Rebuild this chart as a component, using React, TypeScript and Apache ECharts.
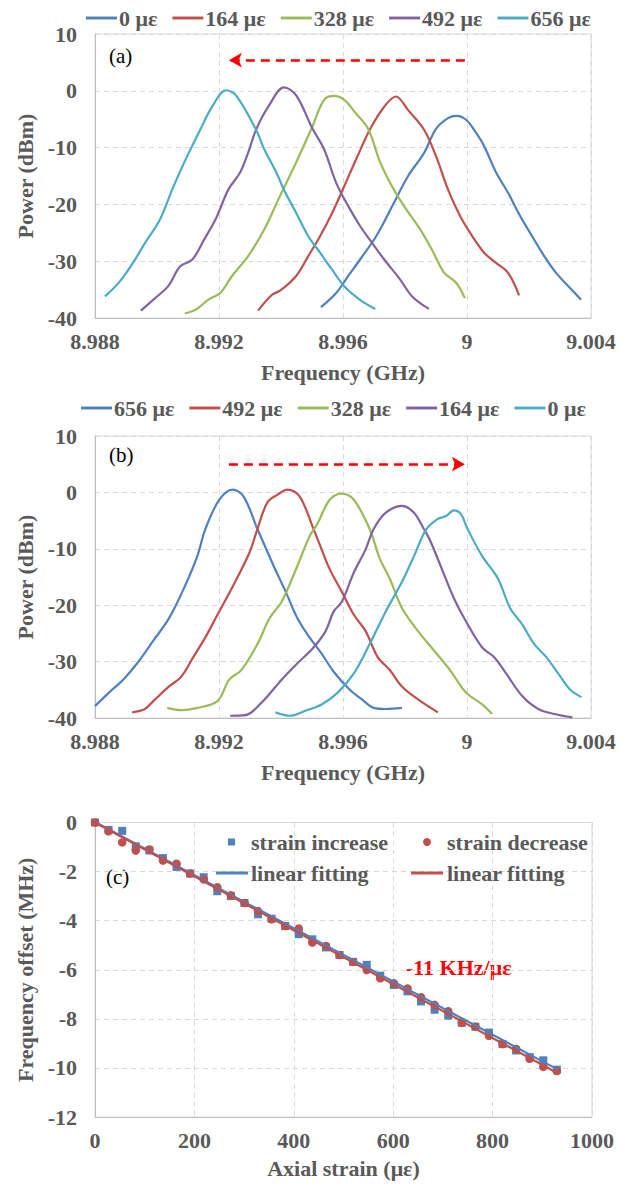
import React, { useEffect, useRef } from "react";
import * as echarts from "echarts";

const FONT = "'Liberation Serif', 'Times New Roman', serif";
const GREY = "#595959";
const C_BLUE = "#4F81BD";
const C_RED = "#C0504D";
const C_GREEN = "#9BBB59";
const C_PURPLE = "#8064A2";
const C_CYAN = "#4BACC6";

// ---------- Panel (a): strain increasing, spectrum shifts left ----------
const A_NAMES = ["0 με", "164 με", "328 με", "492 με", "656 με"];
const A_0: number[][] = [[8.99529,-38.1],[8.99578,-35.6],[8.99617,-32.6],[8.99655,-29.7],[8.99707,-25.6],[8.99759,-20.3],[8.9981,-15.0],[8.99862,-10.9],[8.999,-6.7],[8.99939,-4.8],[8.99968,-4.4],[8.99997,-5.1],[9.00023,-6.9],[9.00055,-9.7],[9.00094,-14.4],[9.00133,-18.0],[9.00172,-22.1],[9.0021,-25.6],[9.00249,-29.1],[9.00288,-32.1],[9.00327,-34.4],[9.00368,-36.8]];
const A_164: number[][] = [[8.99326,-38.7],[8.99371,-35.9],[8.99397,-35.2],[8.99449,-32.6],[8.99488,-29.1],[8.99526,-25.6],[8.99565,-21.5],[8.99604,-16.8],[8.99642,-12.1],[8.99688,-6.7],[8.99733,-2.8],[8.99771,-1.0],[8.9981,-3.4],[8.99862,-6.9],[8.999,-11.5],[8.99939,-17.4],[8.99978,-22.1],[9.00017,-25.6],[9.00055,-28.5],[9.00094,-30.3],[9.00133,-32.1],[9.00168,-36.0]];
const A_328: number[][] = [[8.9909,-39.2],[8.99126,-38.5],[8.99165,-36.8],[8.99204,-35.6],[8.99242,-32.6],[8.99294,-29.1],[8.99346,-24.4],[8.99397,-18.5],[8.99449,-12.6],[8.99498,-6.7],[8.99539,-1.6],[8.99571,-0.9],[8.99604,-1.6],[8.99642,-4.0],[8.99681,-6.7],[8.9972,-12.6],[8.99758,-16.8],[8.99797,-20.3],[8.99849,-24.4],[8.99887,-28.0],[8.99926,-32.0],[8.99965,-33.8],[8.99993,-36.5]];
const A_492: number[][] = [[8.98948,-38.7],[8.98994,-36.5],[8.99036,-34.4],[8.99075,-30.9],[8.99114,-29.7],[8.99152,-26.2],[8.99191,-22.4],[8.9923,-17.4],[8.99268,-14.4],[8.99294,-10.9],[8.9932,-6.8],[8.99359,-2.8],[8.9941,0.6],[8.99449,-0.8],[8.99501,-6.6],[8.99539,-10.3],[8.99578,-16.2],[8.99617,-20.3],[8.99655,-23.8],[8.99694,-26.8],[8.99733,-29.7],[8.99784,-33.2],[8.99823,-36.2],[8.99877,-38.4]];
const A_656: number[][] = [[8.98832,-36.2],[8.98881,-33.5],[8.98926,-30.0],[8.98959,-27.0],[8.9901,-22.6],[8.99049,-17.4],[8.99088,-12.6],[8.99139,-6.9],[8.99178,-2.8],[8.99223,0.1],[8.99255,-0.8],[8.9932,-6.9],[8.99346,-10.3],[8.99385,-14.4],[8.99411,-17.6],[8.99449,-21.5],[8.99488,-25.6],[8.99526,-28.5],[8.99565,-31.5],[8.99604,-34.4],[8.99655,-36.8],[8.99704,-38.4]];
const A_ARROW: number[][] = [[8.99993, 5.4], [8.99232, 5.4]];

// ---------- Panel (b): strain decreasing, spectrum shifts right ----------
const B_NAMES = ["656 με", "492 με", "328 με", "164 με", "0 με"];
const B_656: number[][] = [[8.988,-37.9],[8.98845,-35.5],[8.98891,-33.2],[8.98936,-30.3],[8.98988,-26.3],[8.99039,-22.3],[8.99091,-16.5],[8.9913,-11.3],[8.99156,-6.5],[8.99201,-1.3],[8.99244,0.5],[8.99279,-0.7],[8.99324,-6.5],[8.99376,-13.0],[8.99415,-17.6],[8.99453,-22.3],[8.99492,-25.7],[8.99531,-28.6],[8.9957,-31.8],[8.99622,-35.0],[8.99661,-36.7],[8.99699,-38.2],[8.99738,-38.4],[8.9979,-38.2]];
const B_492: number[][] = [[8.9892,-39.0],[8.98961,-38.4],[8.98988,-37.0],[8.99039,-34.4],[8.99078,-32.7],[8.99117,-29.2],[8.99156,-25.7],[8.99195,-21.7],[8.99246,-16.5],[8.99298,-10.7],[8.99324,-6.5],[8.99356,-1.8],[8.99389,-0.4],[8.99421,0.5],[8.9946,-0.7],[8.99505,-6.5],[8.99531,-10.1],[8.99557,-13.6],[8.99596,-17.6],[8.99635,-21.7],[8.99673,-24.6],[8.99712,-29.2],[8.99751,-31.5],[8.9979,-34.4],[8.99842,-36.7],[8.99906,-39.0]];
const B_328: number[][] = [[8.99033,-38.2],[8.99078,-38.6],[8.9913,-38.2],[8.99195,-37.0],[8.99233,-33.2],[8.99272,-31.5],[8.99324,-26.9],[8.99363,-22.3],[8.99402,-19.4],[8.99453,-13.0],[8.99492,-7.8],[8.99518,-5.5],[8.99557,-1.3],[8.99596,-0.2],[8.99635,-1.3],[8.99686,-6.5],[8.99719,-11.8],[8.99751,-15.3],[8.9979,-20.5],[8.99842,-24.6],[8.99893,-28.0],[8.99945,-31.5],[8.99997,-35.5],[9.00049,-37.6],[9.00081,-39.3]];
const B_164: number[][] = [[8.99236,-39.6],[8.99285,-39.5],[8.99337,-37.3],[8.99402,-33.2],[8.99453,-30.3],[8.99505,-27.5],[8.99544,-24.6],[8.9957,-21.1],[8.99596,-19.4],[8.99635,-14.2],[8.99673,-10.1],[8.99699,-6.5],[8.99738,-3.6],[8.9979,-2.4],[8.99829,-3.6],[8.99861,-6.5],[8.9988,-8.4],[8.99919,-13.6],[8.99958,-18.8],[8.99996,-22.8],[9.00049,-27.5],[9.00087,-29.2],[9.00126,-32.1],[9.00178,-36.1],[9.0023,-38.4],[9.00282,-39.3],[9.0034,-39.9]];
const B_0: number[][] = [[8.99382,-39.0],[8.99428,-39.6],[8.99479,-38.7],[8.99531,-37.6],[8.99583,-35.5],[8.99635,-32.1],[8.99686,-26.9],[8.99738,-21.1],[8.9979,-15.9],[8.99829,-11.3],[8.99868,-6.6],[8.99906,-4.7],[8.99932,-4.2],[8.99958,-3.2],[8.99981,-3.9],[9.00001,-6.4],[9.00049,-11.3],[9.001,-15.3],[9.00139,-20.5],[9.00178,-23.4],[9.00217,-26.9],[9.00256,-29.2],[9.00294,-32.1],[9.00333,-35.0],[9.00369,-36.3]];
const B_ARROW: number[][] = [[8.99232, 5.0], [8.99993, 5.0]];

// ---------- Panel (c): frequency offset vs axial strain ----------
const C_STRAIN = [0,27.3,54.7,82,109.3,136.7,164,191.3,218.7,246,273.3,300.7,328,355.3,382.7,410,437.3,464.7,492,519.3,546.7,574,601.3,628.7,656,683.3,710.7,738,765.3,792.7,820,847.3,874.7,902,929.3];
const C_INCREASE = [0,-0.3,-0.34,-0.97,-1.14,-1.45,-1.81,-2.08,-2.23,-2.8,-3.0,-3.28,-3.74,-3.92,-4.22,-4.55,-4.76,-5.09,-5.4,-5.68,-5.8,-6.24,-6.62,-6.88,-7.29,-7.63,-7.87,-8.16,-8.32,-8.56,-9.03,-9.29,-9.56,-9.69,-10.07];
const C_DECREASE = [0,-0.36,-0.81,-1.14,-1.1,-1.55,-1.68,-2.08,-2.32,-2.64,-2.96,-3.28,-3.61,-3.95,-4.22,-4.32,-4.89,-5.03,-5.4,-5.68,-6.01,-6.35,-6.55,-6.76,-7.12,-7.43,-7.69,-8.16,-8.32,-8.69,-9.03,-9.23,-9.63,-9.96,-10.13];
const C_FIT_INC: number[][] = [[0, 0.02], [929.3, -10.05]];
const C_FIT_DEC: number[][] = [[0, 0.0], [929.3, -10.2]];
const C_SLOPE_TEXT = "-11 KHz/με";

const FS = 22;
const boldText = (size: number) => ({ fontFamily: FONT, fontWeight: "bold" as const, fontSize: size, color: GREY });
const LINE_ICON = "path://M0 0H32V3H0Z";

const fmtFreq = (v: number) => v.toFixed(3).replace(/\.?0+$/, "");
const fmtPlain = (v: number) => String(v);

function axisX(min: number, max: number, interval: number, name: string, nameGap: number, formatter: any) {
  return {
    type: "value", min, max, interval, name, nameLocation: "middle", nameGap,
    nameTextStyle: boldText(FS),
    axisLine: { show: true, onZero: false, lineStyle: { color: "#bfbfbf", width: 1 } },
    axisTick: { show: false },
    axisLabel: { ...boldText(FS), margin: 12, showMinLabel: true, showMaxLabel: true, formatter },
    splitLine: { show: true, lineStyle: { type: [5, 4], color: "#d9d9d9", width: 1 } },
  };
}
function axisY(min: number, max: number, interval: number, name: string, nameGap: number) {
  return {
    type: "value", min, max, interval, name, nameLocation: "middle", nameGap,
    nameTextStyle: boldText(FS),
    axisLine: { show: true, onZero: false, lineStyle: { color: "#bfbfbf", width: 1 } },
    axisTick: { show: false },
    axisLabel: { ...boldText(FS), margin: 18, showMinLabel: true, showMaxLabel: true, formatter: fmtPlain },
    splitLine: { show: true, lineStyle: { type: [5, 4], color: "#d9d9d9", width: 1 } },
  };
}

function spectrumSeries(name: string, data: number[][], color: string, arrow?: number[][]) {
  const s: any = {
    name, type: "line", data, smooth: 0.35, symbol: "none", showSymbol: false,
    lineStyle: { color, width: 2.2 }, itemStyle: { color },
  };
  if (arrow) {
    s.markLine = {
      silent: true, symbol: ["none", "arrow"], symbolSize: [11, 13],
      lineStyle: { color: "#ff0000", type: [9, 6], width: 2.5 },
      label: { show: false },
      data: [[{ coord: arrow[0] }, { coord: arrow[1] }]],
    };
  }
  return s;
}

function spectrumOption(names: string[], series: any[], gridTop: number, legendTop: number, legendLeft: number, tag: string, tagTop: number) {
  return {
    animation: false,
    textStyle: { fontFamily: FONT },
    legend: {
      top: legendTop, left: legendLeft, padding: 0, itemWidth: 31, itemHeight: 3, itemGap: 15,
      icon: LINE_ICON,
      textStyle: { ...boldText(FS), padding: [0, 0, 0, -3] },
      data: names,
    },
    grid: { left: 95, top: gridTop, width: 496, height: 284, show: true, borderColor: "#d9d9d9", borderWidth: 1 },
    xAxis: axisX(8.988, 9.004, 0.004, "Frequency (GHz)", 43, fmtFreq),
    yAxis: axisY(-40, 10, 10, "Power (dBm)", 59),
    graphic: [{ type: "text", left: 109, top: tagTop, style: { text: tag, font: `21px ${FONT}`, fill: "#000" } }],
    series,
  };
}

function Chart({ option, top, height }: { option: any; top: number; height: number }) {
  const ref = useRef<HTMLDivElement>(null);
  useEffect(() => {
    const chart = echarts.init(ref.current!, undefined, { renderer: "svg" });
    chart.setOption(option);
    return () => chart.dispose();
  }, [option]);
  return <div ref={ref} style={{ position: "absolute", left: 0, top, width: 629, height }} />;
}

const optionA = spectrumOption(
  A_NAMES,
  [
    spectrumSeries(A_NAMES[0], A_0, C_BLUE),
    spectrumSeries(A_NAMES[1], A_164, C_RED),
    spectrumSeries(A_NAMES[2], A_328, C_GREEN),
    spectrumSeries(A_NAMES[3], A_492, C_PURPLE),
    spectrumSeries(A_NAMES[4], A_656, C_CYAN, A_ARROW),
  ],
  34, 7, 86, "(a)", 45
);

const optionB = spectrumOption(
  B_NAMES,
  [
    spectrumSeries(B_NAMES[0], B_656, C_BLUE),
    spectrumSeries(B_NAMES[1], B_492, C_RED),
    spectrumSeries(B_NAMES[2], B_328, C_GREEN),
    spectrumSeries(B_NAMES[3], B_164, C_PURPLE),
    spectrumSeries(B_NAMES[4], B_0, C_CYAN, B_ARROW),
  ],
  44, 5, 81, "(b)", 52
);

const FIT2 = "linear fitting\u200b";
const legendText = (padLeft: number) => ({ ...boldText(FS), padding: [0, 0, 0, padLeft] });
const optionC = {
  animation: false,
  textStyle: { fontFamily: FONT },
  legend: [
    { data: ["strain increase"], left: 228, top: 43, padding: 0, icon: "rect", itemWidth: 7, itemHeight: 7, textStyle: legendText(11) },
    { data: ["strain decrease"], left: 423, top: 43, padding: 0, icon: "circle", itemWidth: 8, itemHeight: 8, textStyle: legendText(11) },
    { data: ["linear fitting"], left: 216, top: 74, padding: 0, icon: LINE_ICON, itemWidth: 32, itemHeight: 3, textStyle: legendText(-2) },
    { data: [FIT2], left: 411, top: 74, padding: 0, icon: LINE_ICON, itemWidth: 32, itemHeight: 3, textStyle: legendText(-1),
      formatter: (n: string) => n.replace("\u200b", "") },
  ],
  grid: { left: 95, top: 34.5, width: 497, height: 297, show: true, borderColor: "#d9d9d9", borderWidth: 1 },
  xAxis: axisX(0, 1000, 200, "Axial strain (με)", 40, fmtPlain),
  yAxis: axisY(-12, 0, 2, "Frequency offset (MHz)", 59),
  graphic: [
    { type: "text", left: 106, top: 78, style: { text: "(c)", font: `21px ${FONT}`, fill: "#000" } },
    { type: "text", left: 406, top: 168, style: { text: C_SLOPE_TEXT, font: `bold 22px ${FONT}`, fill: "#ff0000" } },
  ],
  series: [
    { name: "strain increase", type: "scatter", symbol: "rect", symbolSize: 8, itemStyle: { color: C_BLUE, opacity: 1 }, z: 2,
      data: C_STRAIN.map((s, i) => [s, C_INCREASE[i]]) },
    { name: "strain decrease", type: "scatter", symbol: "circle", symbolSize: 8.5, itemStyle: { color: C_RED, opacity: 1 }, z: 3,
      data: C_STRAIN.map((s, i) => [s, C_DECREASE[i]]) },
    { name: "linear fitting", type: "line", data: C_FIT_INC, symbol: "none", showSymbol: false, z: 4,
      lineStyle: { color: C_BLUE, width: 2.2 }, itemStyle: { color: C_BLUE } },
    { name: FIT2, type: "line", data: C_FIT_DEC, symbol: "none", showSymbol: false, z: 5,
      lineStyle: { color: C_RED, width: 2.2 }, itemStyle: { color: C_RED } },
  ],
};

export default function App() {
  return (
    <div style={{ position: "absolute", left: 0, top: 0, width: 629, height: 1184, background: "#fff" }}>
      <Chart option={optionA} top={0} height={392} />
      <Chart option={optionB} top={392} height={396} />
      <Chart option={optionC} top={788} height={396} />
    </div>
  );
}
